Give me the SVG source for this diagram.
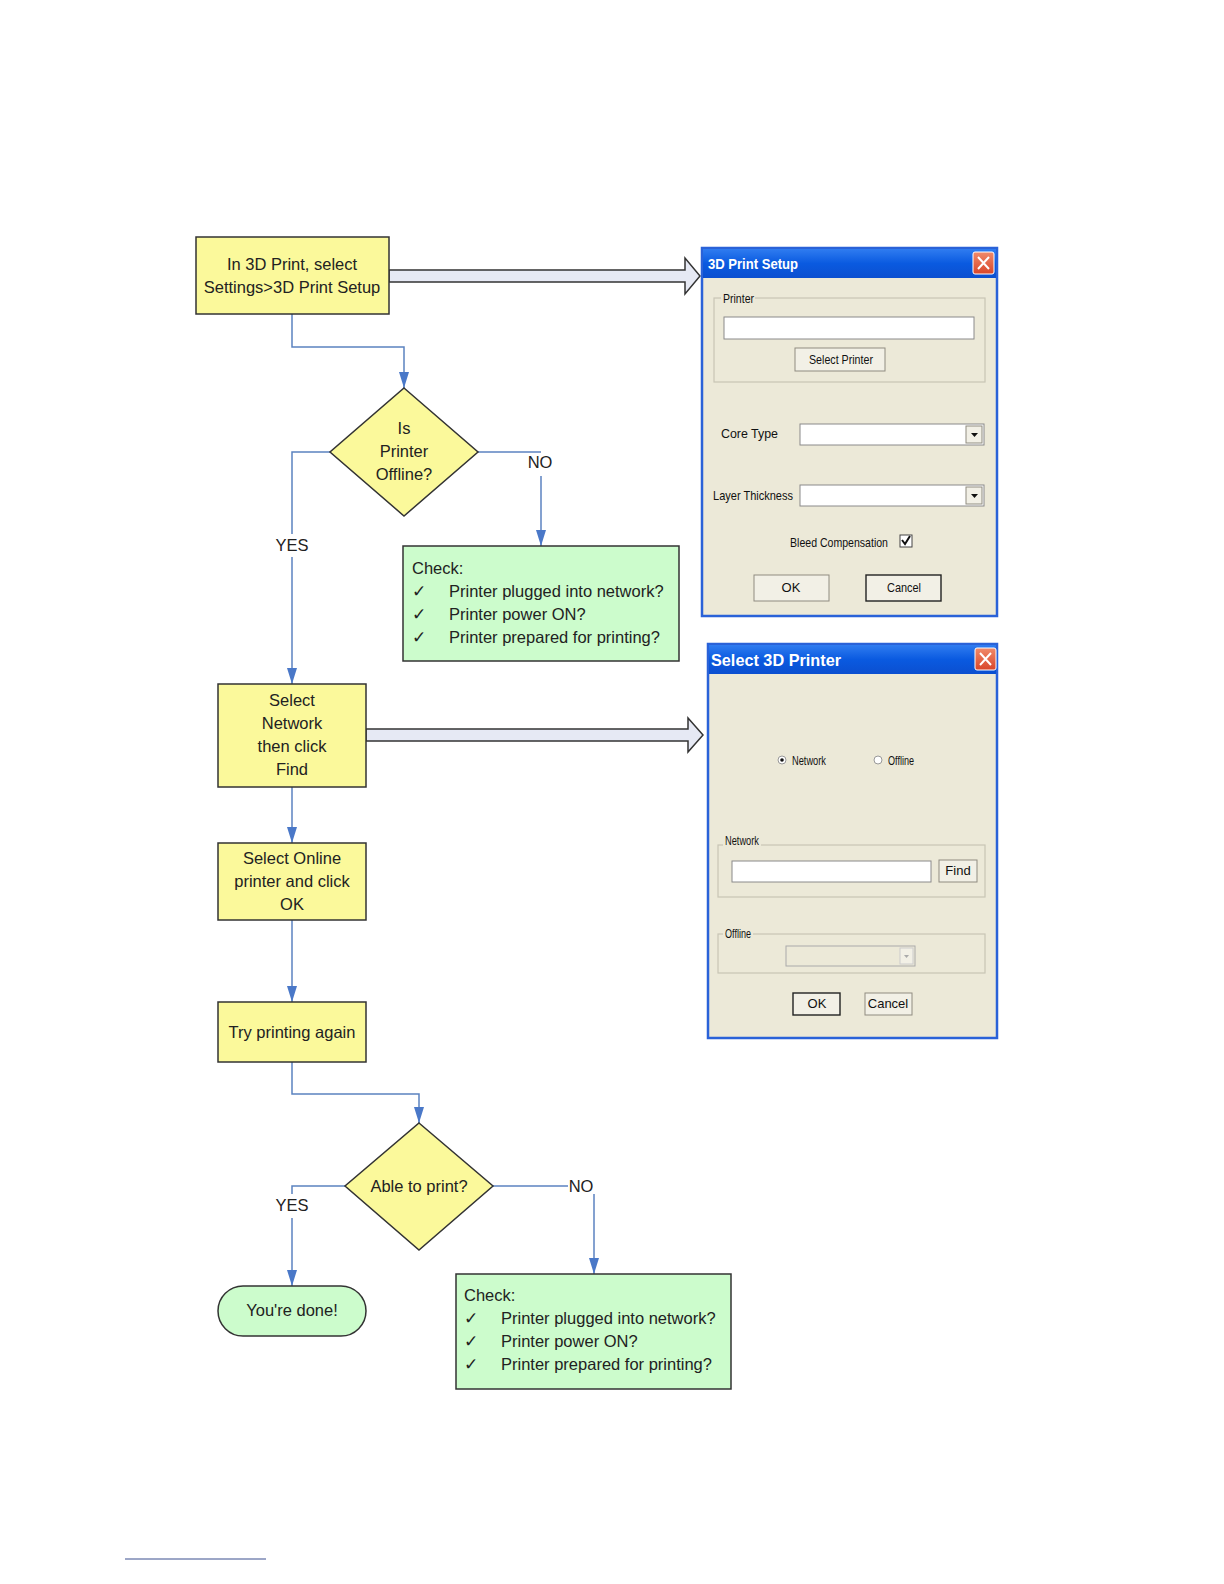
<svg xmlns="http://www.w3.org/2000/svg" width="1224" height="1584" viewBox="0 0 1224 1584">
<defs>
<style>
.box{fill:#fbf99b;stroke:#333;stroke-width:1.5}
.grn{fill:#ccfccc;stroke:#333;stroke-width:1.5}
.t{font-family:"Liberation Sans",Arial,sans-serif;font-size:16.5px;fill:#222}
.c{text-anchor:middle}
.conn{fill:none;stroke:#5b82c0;stroke-width:1.5}
.barrow{fill:#e6e9f4;stroke:#333;stroke-width:1.5}
.dlg{fill:#ece9d8;stroke:#2a62d8;stroke-width:2.5}
.ttl{font-family:"Liberation Sans",Arial,sans-serif;font-weight:bold;fill:#fff}
.d{font-family:"Liberation Sans",Arial,sans-serif;font-size:13px;fill:#111}
.grp{fill:none;stroke:#c8c5b5;stroke-width:1.2}
.fld{fill:#fff;stroke:#8a8a8a;stroke-width:1}
.btn{fill:#f2f0e6;stroke:#8f8c80;stroke-width:1}
.btnd{fill:#f2f0e6;stroke:#222;stroke-width:1.4}
</style>
<linearGradient id="tb" x1="0" y1="0" x2="0" y2="1">
<stop offset="0" stop-color="#2f7cf0"/>
<stop offset="0.5" stop-color="#0a5ae0"/>
<stop offset="1" stop-color="#0b4fd0"/>
</linearGradient>
<linearGradient id="cl" x1="0" y1="0" x2="0" y2="1">
<stop offset="0" stop-color="#f08a6a"/>
<stop offset="1" stop-color="#d9462a"/>
</linearGradient>
<marker id="ah" viewBox="0 0 16 10" refX="16" refY="5" markerWidth="16" markerHeight="10" markerUnits="userSpaceOnUse" orient="auto">
<path d="M0,0 L16,5 L0,10 z" fill="#4a78c8"/>
</marker>
</defs>
<rect width="1224" height="1584" fill="#fff"/>

<g id="connectors">
<path class="conn" d="M292,314 V347 H404 V388" marker-end="url(#ah)"/>
<path class="conn" d="M478,452 H541"/>
<path class="conn" d="M541,476 V546" marker-end="url(#ah)"/>
<path class="conn" d="M330,452 H292 V534"/>
<path class="conn" d="M292,557 V684" marker-end="url(#ah)"/>
<path class="conn" d="M292,787 V843" marker-end="url(#ah)"/>
<path class="conn" d="M292,920 V1002" marker-end="url(#ah)"/>
<path class="conn" d="M292,1062 V1094 H419 V1123" marker-end="url(#ah)"/>
<path class="conn" d="M345,1186 H292 V1194"/>
<path class="conn" d="M292,1218 V1286" marker-end="url(#ah)"/>
<path class="conn" d="M493,1186 H568"/>
<path class="conn" d="M594,1194 V1274" marker-end="url(#ah)"/>
<path class="barrow" d="M389,270 H685 V258 L700,276 L685,294 V282 H389 Z"/>
<path class="barrow" d="M366,729 H688 V718 L703,735 L688,752 V741 H366 Z"/>
<text class="t c" x="540" y="468">NO</text>
<text class="t c" x="292" y="551">YES</text>
<text class="t c" x="292" y="1211">YES</text>
<text class="t c" x="581" y="1192">NO</text>
</g>

<g id="n1">
<rect class="box" x="196" y="237" width="193" height="77"/>
<text class="t c" x="292" y="270">In 3D Print, select</text>
<text class="t c" x="292" y="293">Settings&gt;3D Print Setup</text>
</g>

<g id="n2">
<path class="box" d="M404,388 L478,452 L404,516 L330,452 Z"/>
<text class="t c" x="404" y="434">Is</text>
<text class="t c" x="404" y="457">Printer</text>
<text class="t c" x="404" y="480">Offline?</text>
</g>

<g id="n3">
<rect class="grn" x="403" y="546" width="276" height="115"/>
<text class="t" x="412" y="574">Check:</text>
<text class="t" x="412" y="597">✓</text><text class="t" x="449" y="597">Printer plugged into network?</text>
<text class="t" x="412" y="620">✓</text><text class="t" x="449" y="620">Printer power ON?</text>
<text class="t" x="412" y="643">✓</text><text class="t" x="449" y="643">Printer prepared for printing?</text>
</g>

<g id="n4">
<rect class="box" x="218" y="684" width="148" height="103"/>
<text class="t c" x="292" y="706">Select</text>
<text class="t c" x="292" y="729">Network</text>
<text class="t c" x="292" y="752">then click</text>
<text class="t c" x="292" y="775">Find</text>
</g>

<g id="n5">
<rect class="box" x="218" y="843" width="148" height="77"/>
<text class="t c" x="292" y="864">Select Online</text>
<text class="t c" x="292" y="887">printer and click</text>
<text class="t c" x="292" y="910">OK</text>
</g>

<g id="n6">
<rect class="box" x="218" y="1002" width="148" height="60"/>
<text class="t c" x="292" y="1038">Try printing again</text>
</g>

<g id="n7">
<path class="box" d="M419,1123 L493,1186 L419,1250 L345,1186 Z"/>
<text class="t c" x="419" y="1192">Able to print?</text>
</g>

<g id="n8">
<rect class="grn" x="218" y="1286" width="148" height="50" rx="25"/>
<text class="t c" x="292" y="1316">You're done!</text>
</g>

<g id="n9">
<rect class="grn" x="456" y="1274" width="275" height="115"/>
<text class="t" x="464" y="1301">Check:</text>
<text class="t" x="464" y="1324">✓</text><text class="t" x="501" y="1324">Printer plugged into network?</text>
<text class="t" x="464" y="1347">✓</text><text class="t" x="501" y="1347">Printer power ON?</text>
<text class="t" x="464" y="1370">✓</text><text class="t" x="501" y="1370">Printer prepared for printing?</text>
</g>

<g id="dialog1">
<rect class="dlg" x="702" y="248" width="295" height="368"/>
<rect x="703" y="249" width="293" height="29" fill="url(#tb)"/>
<text class="ttl" x="708" y="269" font-size="15" textLength="90" lengthAdjust="spacingAndGlyphs">3D Print Setup</text>
<rect x="973" y="252" width="21" height="22" rx="2" fill="url(#cl)" stroke="#fff" stroke-width="1"/>
<path d="M978,257 L989,269 M989,257 L978,269" stroke="#fff" stroke-width="2"/>
<rect class="grp" x="714" y="298" width="271" height="84"/>
<rect x="721" y="294" width="34" height="10" fill="#ece9d8"/>
<text class="d" x="723" y="303" textLength="31" lengthAdjust="spacingAndGlyphs">Printer</text>
<rect class="fld" x="724" y="317" width="250" height="22"/>
<rect class="btn" x="795" y="348" width="90" height="23"/>
<text class="d" x="809" y="364" textLength="64" lengthAdjust="spacingAndGlyphs">Select Printer</text>
<text class="d" x="721" y="438" font-size="14" textLength="57" lengthAdjust="spacingAndGlyphs">Core Type</text>
<rect class="fld" x="800" y="424" width="184" height="21"/>
<rect class="btn" x="966" y="426" width="16" height="17"/>
<path d="M971,433 h7 l-3.5,4 z" fill="#111"/>
<text class="d" x="713" y="500" textLength="80" lengthAdjust="spacingAndGlyphs">Layer Thickness</text>
<rect class="fld" x="800" y="485" width="184" height="21"/>
<rect class="btn" x="966" y="487" width="16" height="17"/>
<path d="M971,494 h7 l-3.5,4 z" fill="#111"/>
<text class="d" x="790" y="547" textLength="98" lengthAdjust="spacingAndGlyphs">Bleed Compensation</text>
<rect x="900" y="535" width="12" height="12" fill="#fff" stroke="#444"/>
<path d="M902,540 L905,544 L910,536" fill="none" stroke="#111" stroke-width="2"/>
<rect class="btn" x="754" y="575" width="75" height="26"/>
<text class="d c" x="791" y="592">OK</text>
<rect class="btnd" x="866" y="575" width="75" height="26"/>
<text class="d" x="887" y="592" textLength="34" lengthAdjust="spacingAndGlyphs">Cancel</text>
</g>

<g id="dialog2">
<rect class="dlg" x="708" y="644" width="289" height="394"/>
<rect x="709" y="645" width="287" height="29" fill="url(#tb)"/>
<text class="ttl" x="711" y="666" font-size="17" textLength="130" lengthAdjust="spacingAndGlyphs">Select 3D Printer</text>
<rect x="975" y="648" width="21" height="22" rx="2" fill="url(#cl)" stroke="#fff" stroke-width="1"/>
<path d="M980,653 L991,665 M991,653 L980,665" stroke="#fff" stroke-width="2"/>
<circle cx="782" cy="760" r="4" fill="#fff" stroke="#999"/>
<circle cx="782" cy="760" r="1.8" fill="#111"/>
<text class="d" x="792" y="765" font-size="11" textLength="34" lengthAdjust="spacingAndGlyphs">Network</text>
<circle cx="878" cy="760" r="4" fill="#fff" stroke="#999"/>
<text class="d" x="888" y="765" font-size="11" textLength="26" lengthAdjust="spacingAndGlyphs">Offline</text>
<rect class="grp" x="718" y="845" width="267" height="52"/>
<rect x="723" y="838" width="38" height="12" fill="#ece9d8"/>
<text class="d" x="725" y="845" font-size="11" textLength="34" lengthAdjust="spacingAndGlyphs">Network</text>
<rect class="fld" x="732" y="861" width="199" height="21"/>
<rect class="btn" x="939" y="860" width="38" height="22"/>
<text class="d c" x="958" y="875" font-size="11">Find</text>
<rect class="grp" x="718" y="934" width="267" height="39"/>
<rect x="723" y="929" width="30" height="10" fill="#ece9d8"/>
<text class="d" x="725" y="938" font-size="11" textLength="26" lengthAdjust="spacingAndGlyphs">Offline</text>
<rect x="786" y="946" width="129" height="20" fill="#ece9d8" stroke="#aaa"/>
<rect x="900" y="948" width="13" height="16" fill="#f2f0e6" stroke="#ccc"/>
<path d="M904,955 h5 l-2.5,3 z" fill="#aaa"/>
<rect class="btnd" x="793" y="993" width="47" height="22"/>
<text class="d c" x="817" y="1008" font-size="11">OK</text>
<rect class="btn" x="865" y="993" width="47" height="22"/>
<text class="d c" x="888" y="1008" font-size="11">Cancel</text>
</g>

<line x1="125" y1="1559" x2="266" y2="1559" stroke="#3a4f8f" stroke-width="1"/>
</svg>
